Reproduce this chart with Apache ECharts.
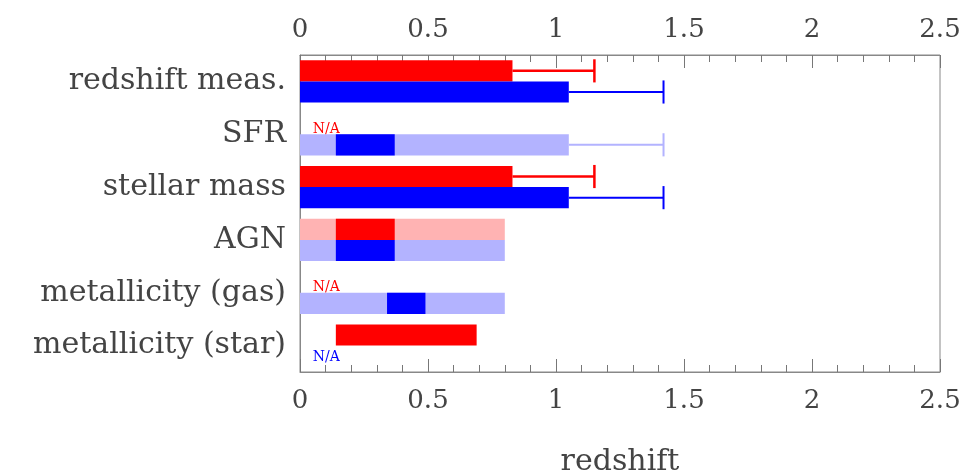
<!DOCTYPE html>
<html>
<head>
<meta charset="utf-8">
<script src="https://cdn.jsdelivr.net/npm/echarts@6/dist/echarts.min.js"></script>
<style>
  html, body { margin: 0; padding: 0; background: #fff; }
  #chart { width: 967px; height: 470px; }
</style>
</head>
<body>
<div id="chart"></div>
<script>
// categories (top to bottom)
const categories = ['redshift meas.', 'SFR', 'stellar mass', 'AGN', 'metallicity (gas)', 'metallicity (star)'];

// red bars: solid range, light range (from 0), error bar end
const redFrom = [0, null, 0, 0.14, null, 0.14];
const redTo = [0.83, null, 0.83, 0.37, null, 0.69];
const redLightTo = [null, null, null, 0.8, null, null];
const redErrTo = [1.15, null, 1.15, null, null, null];

// blue bars
const blueFrom = [0, 0.14, 0, 0.14, 0.34, null];
const blueTo = [1.05, 0.37, 1.05, 0.37, 0.49, null];
const blueLightTo = [null, 1.05, null, 0.8, 0.8, null];
const blueErrTo = [1.42, 1.42, 1.42, null, null, null];

const xMin = 0, xMax = 2.5, xStep = 0.5;

const SERIF = '"DejaVu Serif", serif';

// 描画関数: side = -1 で中心線の上 (赤), +1 で下 (青)
function makeRender(from, to, lightTo, errTo, dark, light, errWidth, side, naDy) {
    return function (params, api) {
        const i = api.value(1);
        const c = api.coord([0, i]);
        const band = api.size([0, 1])[1];
        const h = band * 0.4;
        const y0 = side < 0 ? c[1] - h : c[1];
        const children = [];

        if (to[i] == null) {
            children.push({
                type: 'text',
                style: {
                    text: 'N/A',
                    x: api.coord([0.05, i])[0],
                    y: c[1] + naDy,
                    fill: dark,
                    font: '14px "DejaVu Serif", serif',
                    verticalAlign: 'middle'
                }
            });
            return { type: 'group', children: children };
        }

        if (lightTo[i] != null) {
            const xl = api.coord([0, i])[0];
            const xr = api.coord([lightTo[i], i])[0];
            children.push({ type: 'rect', shape: { x: xl, y: y0, width: xr - xl, height: h }, style: { fill: light } });
        }

        const x1 = api.coord([from[i], i])[0];
        const x2 = api.coord([to[i], i])[0];
        children.push({ type: 'rect', shape: { x: x1, y: y0, width: x2 - x1, height: h }, style: { fill: dark } });

        if (errTo[i] != null) {
            const errColor = lightTo[i] != null ? light : dark;
            const xs = api.coord([lightTo[i] != null ? lightTo[i] : to[i], i])[0];
            const xe = api.coord([errTo[i], i])[0];
            const ym = y0 + h / 2;
            children.push({ type: 'line', shape: { x1: xs, y1: ym, x2: xe, y2: ym }, style: { stroke: errColor, lineWidth: errWidth } });
            children.push({ type: 'line', shape: { x1: xe, y1: y0 - 1, x2: xe, y2: y0 + h + 1 }, style: { stroke: errColor, lineWidth: errWidth } });
        }
        return { type: 'group', children: children };
    };
}

const xAxisBase = {
    type: 'value',
    min: xMin,
    max: xMax,
    interval: xStep,
    axisLine: { show: true, lineStyle: { color: '#888', width: 1 } },
    axisTick: { show: true, inside: true, length: 13, lineStyle: { color: '#777' } },
    minorTick: { show: true, splitNumber: 5, length: 7, lineStyle: { color: '#777' } },
    splitLine: { show: false },
    axisLabel: { margin: 14, fontSize: 26, fontFamily: SERIF, color: '#444' }
};

const chart = echarts.init(document.getElementById('chart'));
chart.setOption({
    animation: false,
    grid: {
        left: 300, right: 27, top: 55, bottom: 98,
        outerBoundsMode: 'none',
        show: true, borderColor: '#888', borderWidth: 1
    },
    xAxis: [
        Object.assign({}, xAxisBase, {
            position: 'bottom',
            axisLabel: Object.assign({}, xAxisBase.axisLabel, { margin: 16 }),
            name: 'redshift',
            nameLocation: 'middle',
            nameGap: 75,
            nameTextStyle: { fontSize: 30, fontFamily: SERIF, color: '#444' }
        }),
        Object.assign({}, xAxisBase, {
            position: 'top',
            axisLabel: Object.assign({}, xAxisBase.axisLabel, { margin: 12 })
        })
    ],
    yAxis: {
        type: 'category',
        data: categories,
        inverse: true,
        axisLine: { show: true, lineStyle: { color: '#888' } },
        axisTick: { show: false },
        axisLabel: { interval: 0, margin: 14, fontSize: 30, fontFamily: SERIF, color: '#444' }
    },
    series: [
        {
            type: 'custom',
            renderItem: makeRender(redFrom, redTo, redLightTo, redErrTo, '#ff0000', '#ffb3b3', 2.5, -1, -5),
            encode: { x: 0, y: 1 },
            data: categories.map((c, i) => [0, i])
        },
        {
            type: 'custom',
            renderItem: makeRender(blueFrom, blueTo, blueLightTo, blueErrTo, '#0000ff', '#b3b3ff', 2, 1, 11.5),
            encode: { x: 0, y: 1 },
            data: categories.map((c, i) => [0, i])
        }
    ]
});
</script>
</body>
</html>
